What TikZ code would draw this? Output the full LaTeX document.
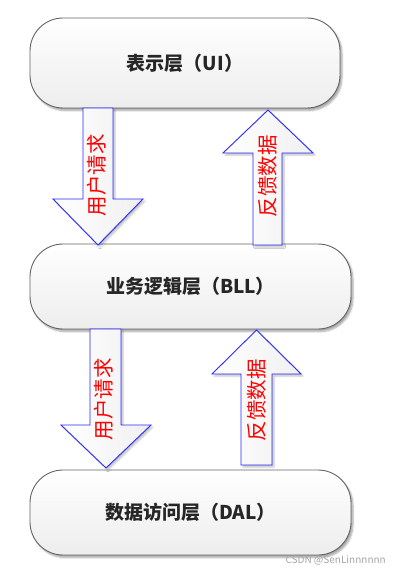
\documentclass[tikz,border=0pt]{standalone}
\usepackage{fontspec}
\newfontfamily\cjk{Noto Sans CJK SC}
\usetikzlibrary{shadows.blur}
\definecolor{arrowblue}{RGB}{40,40,255}
\definecolor{boxline}{RGB}{100,100,100}
\tikzset{
  layerbox/.style={draw=boxline, line width=0.9pt, rounded corners=33pt,
    top color=white, bottom color=gray!14,
    blur shadow={shadow xshift=2pt, shadow yshift=-2.5pt, shadow blur steps=6, shadow opacity=35},
    font=\cjk\bfseries\fontsize{19}{22}\selectfont, text=black!85, inner sep=0pt},
  blockarrow/.style={draw=arrowblue, line width=0.9pt, line join=miter,
    left color=white, right color=gray!12,
    blur shadow={shadow xshift=2pt, shadow yshift=-2pt, shadow blur steps=5, shadow opacity=25}},
  arrowtext/.style={rotate=90, text=red, font=\cjk\fontsize{20.5}{22}\selectfont, inner sep=0pt},
  watermark/.style={text=gray!70, font=\cjk\fontsize{10}{12}\selectfont, inner sep=0pt}
}
\begin{document}
\begin{tikzpicture}[x=1pt,y=-1pt]
\useasboundingbox (0,0) rectangle (402,575);
% layer boxes
\node[layerbox, minimum width=310pt, minimum height=90pt] (ui) at (185,63) {表示层（UI）};
\node[layerbox, minimum width=321pt, minimum height=85pt] (bll) at (190.5,286.5) {业务逻辑层（BLL）};
\node[layerbox, minimum width=321pt, minimum height=85pt] (dal) at (190.5,512.5) {数据访问层（DAL）};
% arrows between UI and BLL
\draw[blockarrow] (83,108) -- (113,108) -- (113,199) -- (143,199) -- (98,245) -- (53,199) -- (83,199) -- cycle;
\draw[blockarrow] (253,245) -- (253,153) -- (223,153) -- (268,110) -- (313,153) -- (282,153) -- (282,245) -- cycle;
% arrows between BLL and DAL
\draw[blockarrow] (90,329) -- (121,329) -- (121,425) -- (151,425) -- (106,468) -- (61,425) -- (90,425) -- cycle;
\draw[blockarrow] (241,465) -- (241,374) -- (212,374) -- (256.5,330) -- (301,374) -- (272,374) -- (272,465) -- cycle;
% arrow labels
\node[arrowtext] (req1) at (97,175) {用户请求};
\node[arrowtext] (fb1) at (268,176) {反馈数据};
\node[arrowtext] (req2) at (104,399) {用户请求};
\node[arrowtext] (fb2) at (257,400) {反馈数据};
% watermark
\node[watermark, anchor=east] (wm) at (386,560) {CSDN @SenLinnnnnn};
\end{tikzpicture}
\end{document}
